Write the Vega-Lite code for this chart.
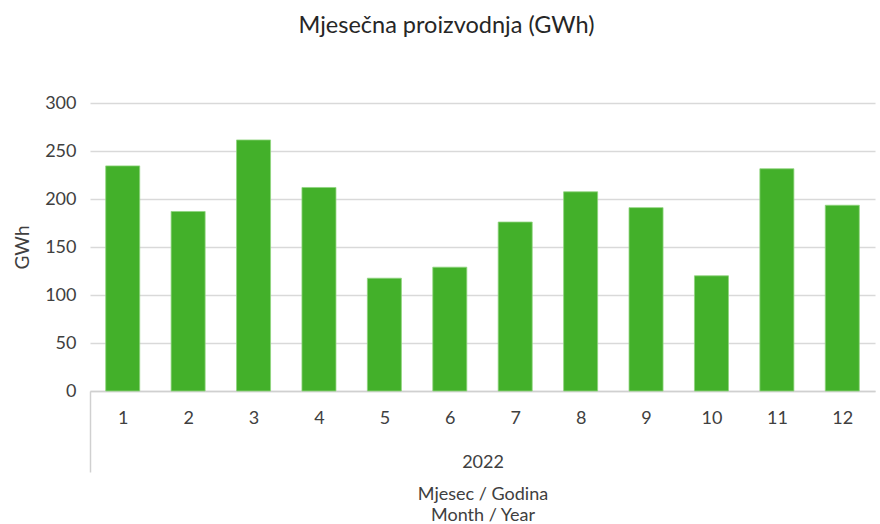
{
  "$schema": "https://vega.github.io/schema/vega-lite/v6.json",
  "width": 785,
  "height": 288,
  "autosize": {"type": "none"},
  "padding": {"left": 90, "top": 103, "right": 5, "bottom": 133},
  "background": "white",
  "config": {
    "font": "Lato",
    "view": {"stroke": null},
    "axis": {"labelFont": "Lato", "titleFont": "Lato", "labelColor": "#404040", "titleColor": "#404040"}
  },
  "title": {
    "text": "Mjesečna proizvodnja (GWh)",
    "font": "Lato",
    "fontSize": 23.5,
    "fontWeight": "normal",
    "color": "#262626",
    "anchor": "middle",
    "frame": "group",
    "dx": -36,
    "offset": 57
  },
  "data": {
    "values": [
      {"mjesec": "1", "gwh": 234.5},
      {"mjesec": "2", "gwh": 187},
      {"mjesec": "3", "gwh": 261.5},
      {"mjesec": "4", "gwh": 212},
      {"mjesec": "5", "gwh": 117.5},
      {"mjesec": "6", "gwh": 129},
      {"mjesec": "7", "gwh": 176},
      {"mjesec": "8", "gwh": 207.5},
      {"mjesec": "9", "gwh": 191},
      {"mjesec": "10", "gwh": 120},
      {"mjesec": "11", "gwh": 231.5},
      {"mjesec": "12", "gwh": 193.5}
    ]
  },
  "mark": {"type": "bar", "color": "#43B02A", "stroke": "#8fd47d", "strokeWidth": 0.8},
  "encoding": {
    "x": {
      "field": "mjesec",
      "type": "ordinal",
      "sort": null,
      "scale": {"paddingInner": 0.48, "paddingOuter": 0.24},
      "axis": {
        "labelAngle": 0,
        "labelFontSize": 18,
        "labelPadding": -63,
        "labelOffset": 32.7,
        "domainColor": "#d0d0d0",
        "domainWidth": 1.5,
        "ticks": true,
        "tickOffset": -32.7,
        "tickSize": 81,
        "tickColor": "#d0d0d0",
        "tickWidth": 1.5,
        "tickOpacity": {"condition": {"test": "datum.value == '1'", "value": 1}, "value": 0},
        "title": ["2022", "\u200b", "\u200b", "Mjesec / Godina", "\u200b", "Month / Year"],
        "titleFontSize": 18,
        "titleFontWeight": "normal",
        "titleLineHeight": 10.7,
        "titleBaseline": "top",
        "titleY": 62
      }
    },
    "y": {
      "field": "gwh",
      "type": "quantitative",
      "scale": {"domain": [0, 300]},
      "axis": {
        "values": [0, 50, 100, 150, 200, 250, 300],
        "labelFontSize": 18,
        "labelPadding": 14,
        "ticks": false,
        "domain": false,
        "gridColor": "#d9d9d9",
        "gridWidth": 1.5,
        "title": "GWh",
        "titleFontSize": 19,
        "titleFontWeight": "normal",
        "titlePadding": 12
      }
    }
  }
}
